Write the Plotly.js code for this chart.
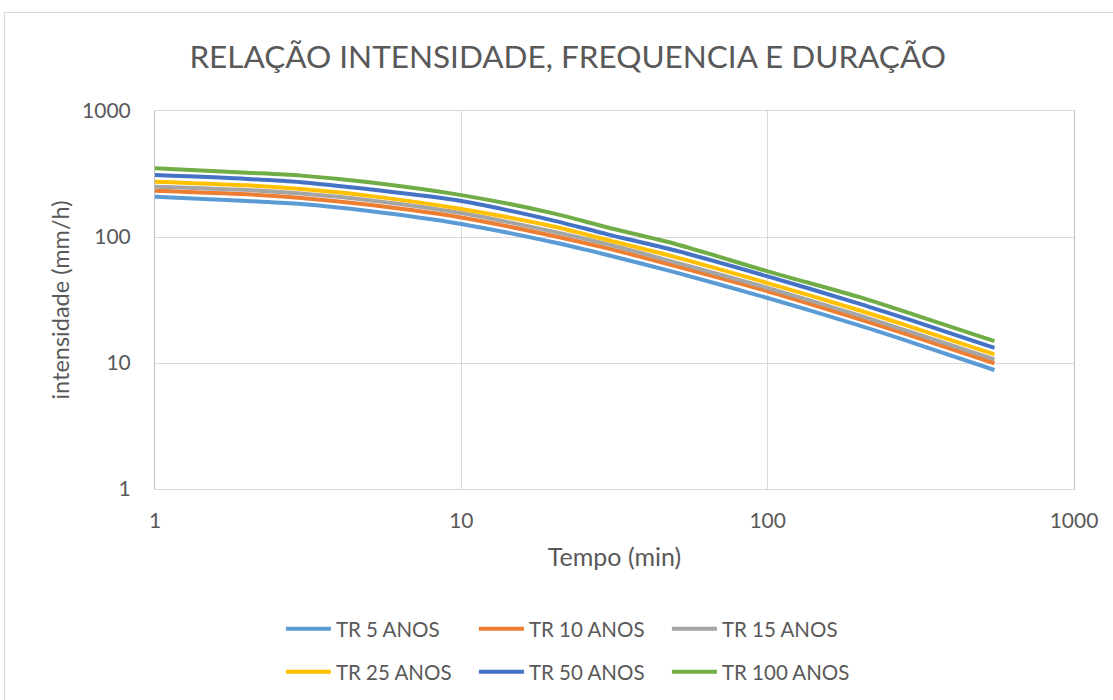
<!DOCTYPE html>
<html>
<head>
<meta charset="utf-8">
<script src="https://cdn.plot.ly/plotly-3.0.1.min.js"></script>
<style>
  html, body { margin: 0; padding: 0; background: #fff; }
  #chart { width: 1113px; height: 700px; }
  #frame { position: absolute; left: 4px; top: 12px; width: 1200px; height: 800px;
           border: 1px solid #D9D9D9; pointer-events: none; }
</style>
</head>
<body>
<div id="chart"></div>
<div id="frame"></div>
<script>
// Duration (min)
const tempo = [1, 2, 3, 5, 10, 20, 30, 50, 100, 200, 300, 550];
// Intensity (mm/h) per return period
const tr5   = [209, 193, 183, 161, 127, 90.8, 72.0, 52.4, 32.8, 19.8, 14.4, 8.8];
const tr10  = [233, 218, 204, 180, 143, 102, 81.3, 58.8, 37.1, 22.2, 16.2, 9.95];
const tr15  = [251, 236, 221, 196, 155, 110, 87.5, 62.9, 39.4, 23.8, 17.3, 10.7];
const tr25  = [275, 257, 240, 212, 167, 121, 94.7, 69.2, 43.1, 26.1, 19.0, 11.7];
const tr50  = [310, 289, 272, 239, 193, 135, 105, 78.1, 48.7, 29.5, 21.5, 13.2];
const tr100 = [351, 324, 307, 272, 215, 154, 119, 88.0, 53.4, 33.3, 24.2, 14.9];

const names = ['TR 5 ANOS', 'TR 10 ANOS', 'TR 15 ANOS', 'TR 25 ANOS', 'TR 50 ANOS', 'TR 100 ANOS'];
const series = [tr5, tr10, tr15, tr25, tr50, tr100];
const colors = ['#5B9BD5', '#ED7D31', '#A5A5A5', '#FFC000', '#4472C4', '#70AD47'];
const tickVals = [1, 10, 100, 1000];
const tickText = ['1', '10', '100', '1000'];

const FONT = 'Lato, "Open Sans", sans-serif';
const TXT = '#595959';

const traces = series.map((s, i) => ({
  x: tempo, y: s, name: names[i], type: 'scatter', mode: 'lines',
  line: { color: colors[i], width: 4, shape: 'spline', smoothing: 0.8 },
  legend: i < 3 ? 'legend' : 'legend2'
}));

const legendCommon = {
  orientation: 'h', xanchor: 'left', yanchor: 'middle',
  font: { family: FONT, size: 20.5, color: TXT },
  entrywidth: 133, entrywidthmode: 'pixels', itemwidth: 45,
  bgcolor: 'rgba(0,0,0,0)', traceorder: 'normal'
};

const layout = {
  width: 1113, height: 700,
  margin: { l: 155, r: 39, t: 111, b: 211, autoexpand: false },
  paper_bgcolor: '#fff', plot_bgcolor: '#fff',
  font: { family: FONT, color: TXT },
  title: { text: 'RELAÇÃO INTENSIDADE, FREQUENCIA E DURAÇÃO',
           font: { family: FONT, size: 31.5, color: TXT },
           x: 0.51, xref: 'container', xanchor: 'center',
           y: 0.918, yref: 'container', yanchor: 'middle' },
  xaxis: {
    type: 'log', range: [0, 3], tickvals: tickVals, ticktext: tickText,
    showgrid: true, gridcolor: '#D9D9D9', gridwidth: 1,
    showline: true, linecolor: '#D9D9D9', linewidth: 1, mirror: true,
    ticks: '', ticklabelstandoff: 13, zeroline: false,
    tickfont: { family: FONT, size: 21, color: TXT },
    title: { text: 'Tempo (min)', font: { family: FONT, size: 25, color: TXT }, standoff: 17 }
  },
  yaxis: {
    type: 'log', range: [0, 3], tickvals: tickVals, ticktext: tickText,
    showgrid: true, gridcolor: '#D9D9D9', gridwidth: 1,
    showline: true, linecolor: '#BFBFBF', linewidth: 1, mirror: true,
    ticks: '', ticklabelstandoff: 19, zeroline: false,
    tickfont: { family: FONT, size: 21, color: TXT },
    title: { text: 'intensidade (mm/h)', font: { family: FONT, size: 23.5, color: TXT }, standoff: 5 }
  },
  legend: Object.assign({}, legendCommon, { x: 0.137, y: -0.370 }),
  legend2: Object.assign({}, legendCommon, { x: 0.137, y: -0.484 }),
  showlegend: true
};

Plotly.newPlot('chart', traces, layout, { displayModeBar: false, staticPlot: true });
</script>
</body>
</html>
